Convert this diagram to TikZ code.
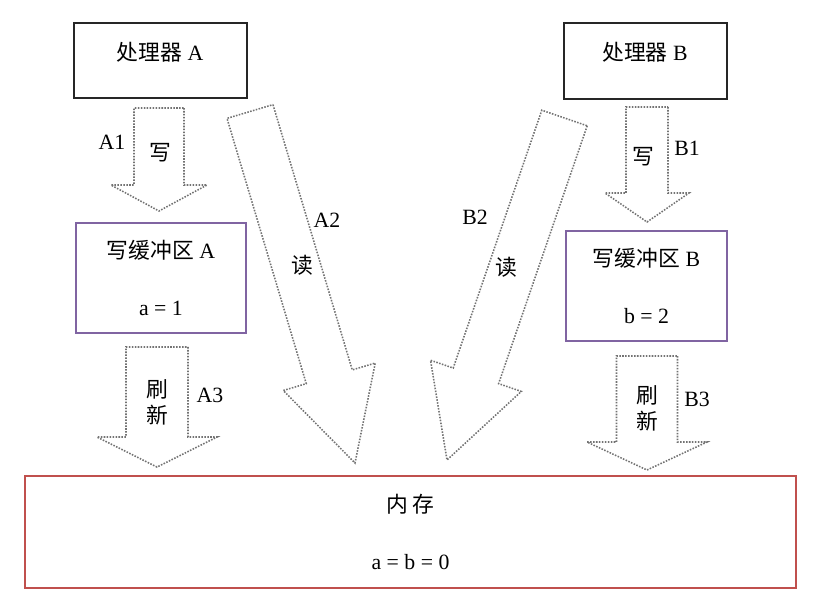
\documentclass[tikz,border=0pt]{standalone}
\usepackage{fontspec}
\setmainfont{Liberation Serif}
\newfontfamily\cjk{Noto Sans CJK SC}
\usetikzlibrary{calc}
\definecolor{boxpurple}{HTML}{8064A2}
\definecolor{memred}{HTML}{C0504D}
% block arrow: tail, tip, shaft half width, head half width, head length (in px)
\newcommand{\fatarrow}[5]{%
  \coordinate (#1b) at ($(#2)!#5*0.025cm!(#1)$);
  \draw [blockflow] ($(#1)!#3*0.025cm!90:(#2)$) -- ($(#1b)!#3*0.025cm!90:(#2)$)
    -- ($(#1b)!#4*0.025cm!90:(#2)$) -- (#2) -- ($(#1b)!#4*0.025cm!-90:(#2)$)
    -- ($(#1b)!#3*0.025cm!-90:(#2)$) -- ($(#1)!#3*0.025cm!-90:(#2)$) -- cycle;
}
\begin{document}
\begin{tikzpicture}
    [
    x=0.025cm, y=-0.025cm,
    every node/.style={font=\fontsize{15.5}{18.6}\selectfont},
    procbox/.style={draw=black!85,line width=1pt},
    bufbox/.style={draw=boxpurple,line width=1pt,align=center,minimum height=2.75cm},
    membox/.style={draw=memred,line width=1pt,align=center},
    blockflow/.style={draw=black!55,densely dotted,line width=1.1pt,fill=white}
    ]
    \useasboundingbox (0,0) rectangle (820,600);
    % boxes
    \node (procA) at (160.5,60.5) [procbox,minimum width=4.325cm,minimum height=1.875cm] {};
    \node (procB) at (645.5,61) [procbox,minimum width=4.075cm,minimum height=1.9cm] {};
    \node (procAtxt) at (160,52) {{\cjk 处理器} A};
    \node (procBtxt) at (645,52) {{\cjk 处理器} B};
    \node (bufA) at (161,278) [bufbox,minimum width=4.25cm] {{\cjk 写缓冲区} A\\[22pt] a = 1};
    \node (bufB) at (646.5,286) [bufbox,minimum width=4.025cm] {{\cjk 写缓冲区} B\\[22pt] b = 2};
    \node (mem) at (410.5,532) [membox,minimum width=19.275cm,minimum height=2.8cm] {{\cjk 内 存}\\[22pt] a = b = 0};
    % arrow ends
    \coordinate (A1) at (159,108);
    \coordinate (A1h) at (159,211);
    \coordinate (B1) at (647,107);
    \coordinate (B1h) at (647,222);
    \coordinate (A2) at (250,111.5);
    \coordinate (A2h) at (355,463);
    \coordinate (B2) at (564.5,118);
    \coordinate (B2h) at (447,460);
    \coordinate (A3) at (157,347);
    \coordinate (A3h) at (157,467);
    \coordinate (B3) at (647,356);
    \coordinate (B3h) at (647,470);
    \fatarrow{A1}{A1h}{25}{48}{26}
    \fatarrow{B1}{B1h}{21}{42}{29}
    \fatarrow{A2}{A2h}{24}{48}{90}
    \fatarrow{B2}{B2h}{24}{48}{89}
    \fatarrow{A3}{A3h}{31}{60}{30}
    \fatarrow{B3}{B3h}{30.5}{60}{28}
    % labels
    \node (A1lbl) at (112,142) {A1};
    \node (A1op) at (160,153) {\cjk 写};
    \node (B1lbl) at (687,148) {B1};
    \node (B1op) at (643,157) {\cjk 写};
    \node (A2lbl) at (327,220) {A2};
    \node (A2op) at (302,265) {\cjk 读};
    \node (B2lbl) at (475,217) {B2};
    \node (B2op) at (506,267) {\cjk 读};
    \node (A3lbl) at (210,395) {A3};
    \node (A3op) at (157,402) [align=center] {\cjk 刷\\\cjk 新};
    \node (B3lbl) at (697,399) {B3};
    \node (B3op) at (647,408) [align=center] {\cjk 刷\\\cjk 新};
\end{tikzpicture}
\end{document}
